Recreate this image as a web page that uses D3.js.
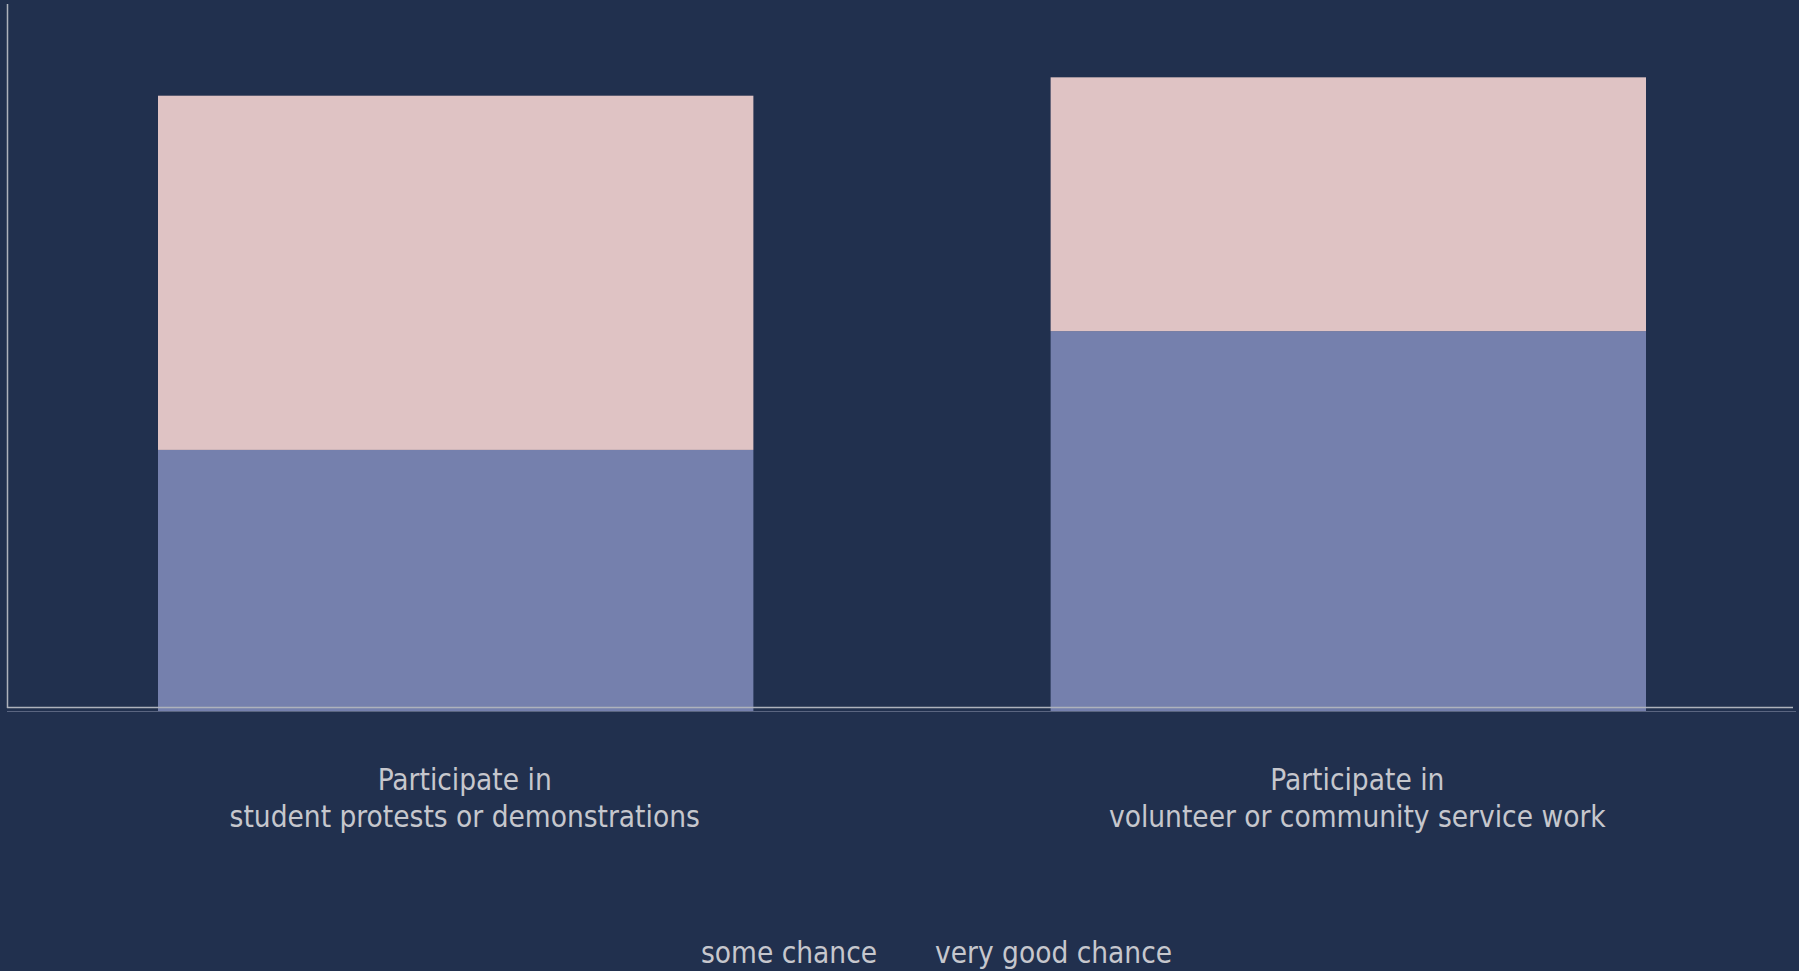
<!DOCTYPE html>
<html>
<head>
<meta charset="utf-8">
<script src="https://cdn.jsdelivr.net/npm/d3@7"></script>
<style>
  html, body { margin: 0; padding: 0; background: #21304e; }
  svg { display: block; }
  text { font-family: "DejaVu Sans Condensed", "DejaVu Sans", sans-serif; font-stretch: condensed; fill: #c6c7cd; }
</style>
</head>
<body>
<svg width="1799" height="971"></svg>
<script>
// categories (two lines each)
var categories = ["protests", "volunteer"];
var labelLines = [
    ["Participate in", "student protests or demonstrations"],
    ["Participate in", "volunteer or community service work"]
];

// series values (percent)
var someChance = [37.0, 53.8];
var veryGoodChance = [50.1, 35.9];
var seriesNames = ["some chance", "very good chance"];
var colors = ["#7580ad", "#dfc3c4"];

var svg = d3.select("svg"),
    width = +svg.attr("width"),
    height = +svg.attr("height");

// stack the data
var rows = categories.map(function (c, i) {
    return { cat: c, "some chance": someChance[i], "very good chance": veryGoodChance[i] };
});
var stacked = d3.stack().keys(seriesNames)(rows);

// scales
var x = d3.scaleBand().domain(categories).range([158, 1646]).paddingInner(0.333);
var y = d3.scaleLinear().domain([0, 100]).range([711.5, 4.5]);

// bars
svg.append("g")
    .selectAll("g")
    .data(stacked)
    .enter()
    .append("g")
    .attr("fill", function (d, i) { return colors[i]; })
    .selectAll("rect")
    .data(function (d) { return d; })
    .enter()
    .append("rect")
    .attr("x", function (d) { return x(d.data.cat); })
    .attr("y", function (d) { return y(d[1]); })
    .attr("width", x.bandwidth())
    .attr("height", function (d) { return y(d[0]) - y(d[1]); });

// axis lines
svg.append("line")
    .attr("x1", 7.5).attr("x2", 7.5)
    .attr("y1", 4).attr("y2", 708)
    .attr("stroke", "#aeb2bc").attr("stroke-width", 1.5);
svg.append("line")
    .attr("x1", 7).attr("x2", 1793)
    .attr("y1", 707.5).attr("y2", 707.5)
    .attr("stroke", "#aeb2bc").attr("stroke-width", 1.5);
svg.append("line")
    .attr("x1", 7).attr("x2", 1796)
    .attr("y1", 711.5).attr("y2", 711.5)
    .attr("stroke", "#5a6580").attr("stroke-width", 1);

// category labels
var labels = svg.append("g")
    .selectAll("text")
    .data(categories)
    .enter()
    .append("text")
    .attr("text-anchor", "middle")
    .attr("font-size", 29.5)
    .attr("transform", function (d) {
        return "translate(" + (x(d) + x.bandwidth() / 2 + 9) + ",790)";
    });
labels.each(function (d, i) {
    var t = d3.select(this);
    labelLines[i].forEach(function (line, j) {
        t.append("tspan").attr("x", 0).attr("y", j * 37).text(line);
    });
});

// legend
var legendX = [701, 935];
svg.append("g")
    .selectAll("text")
    .data(seriesNames)
    .enter()
    .append("text")
    .attr("x", function (d, i) { return legendX[i]; })
    .attr("y", 963)
    .attr("font-size", 29.5)
    .text(function (d) { return d; });
</script>
</body>
</html>
